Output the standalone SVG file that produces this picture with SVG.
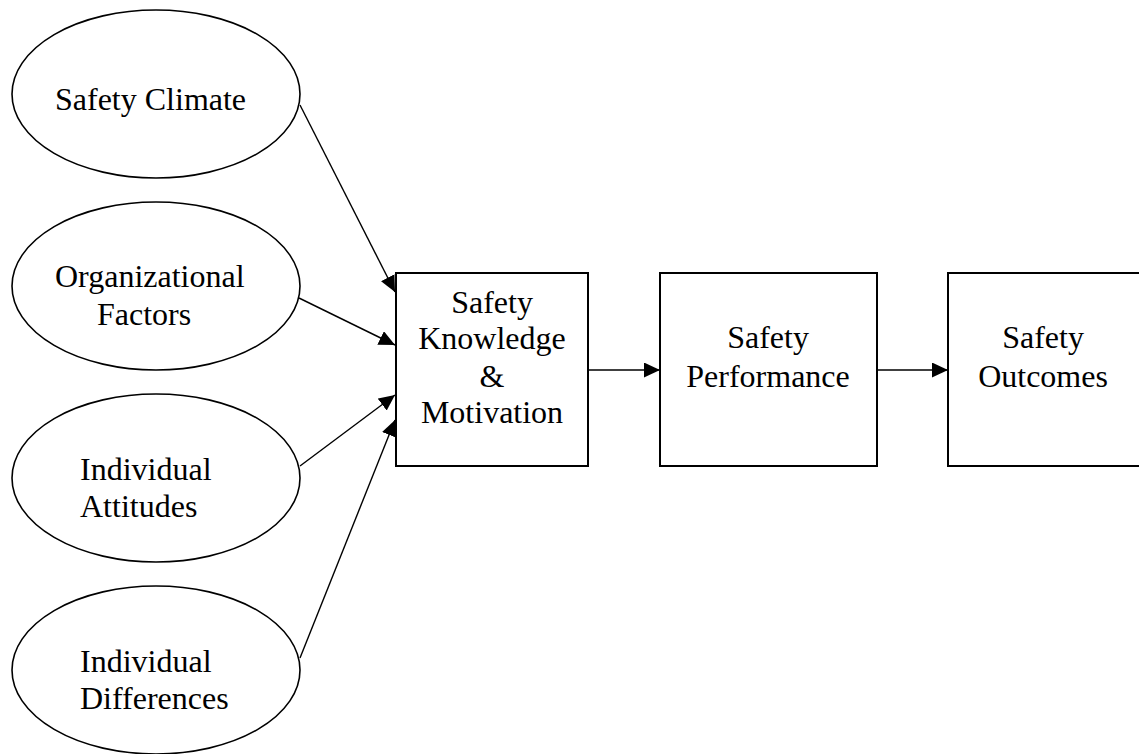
<svg xmlns="http://www.w3.org/2000/svg" width="1139" height="754" viewBox="0 0 1139 754">
  <style>
    .oval { fill: #ffffff; stroke: #000000; stroke-width: 1.6; }
    .box { fill: #ffffff; stroke: #000000; stroke-width: 2; }
    .label { font-family: "Liberation Serif", "Times New Roman", serif; font-size: 32px; fill: #000000; }
    .mid { text-anchor: middle; }
    .link { fill: none; stroke: #000000; stroke-width: 1.4; marker-end: url(#head); }
  </style>
  <defs>
    <marker id="head" markerUnits="userSpaceOnUse" markerWidth="16" markerHeight="15" refX="16" refY="7.5" orient="auto">
      <path d="M0,0 L16,7.5 L0,15 Z" fill="#000000"/>
    </marker>
  </defs>
  <rect width="1139" height="754" fill="#ffffff"/>

  <!-- antecedent factors -->
  <g id="safety-climate">
    <ellipse class="oval" cx="156" cy="94" rx="144" ry="84"/>
    <text class="label" x="55" y="110">Safety Climate</text>
  </g>
  <g id="organizational-factors">
    <ellipse class="oval" cx="156" cy="286" rx="144" ry="84"/>
    <text class="label" x="55" y="287">Organizational</text>
    <text class="label" x="97" y="325">Factors</text>
  </g>
  <g id="individual-attitudes">
    <ellipse class="oval" cx="156" cy="478" rx="144" ry="84"/>
    <text class="label" x="80" y="480">Individual</text>
    <text class="label" x="80" y="517">Attitudes</text>
  </g>
  <g id="individual-differences">
    <ellipse class="oval" cx="156" cy="670" rx="144" ry="84"/>
    <text class="label" x="80" y="672">Individual</text>
    <text class="label" x="80" y="709">Differences</text>
  </g>

  <!-- process chain -->
  <g id="knowledge-motivation">
    <rect class="box" x="396" y="273" width="192" height="193"/>
    <text class="label mid" x="492" y="313">Safety</text>
    <text class="label mid" x="492" y="349">Knowledge</text>
    <text class="label mid" x="492" y="387">&amp;</text>
    <text class="label mid" x="492" y="423">Motivation</text>
  </g>
  <g id="safety-performance">
    <rect class="box" x="660" y="273" width="217" height="193"/>
    <text class="label mid" x="768" y="348">Safety</text>
    <text class="label mid" x="768" y="387">Performance</text>
  </g>
  <g id="safety-outcomes">
    <rect class="box" x="948" y="273" width="196" height="193"/>
    <text class="label mid" x="1043" y="348">Safety</text>
    <text class="label mid" x="1043" y="387">Outcomes</text>
  </g>

  <!-- connectors -->
  <g id="connectors">
    <line class="link" x1="300" y1="105" x2="395" y2="292"/>
    <line class="link" x1="299" y1="298" x2="395" y2="345"/>
    <line class="link" x1="300" y1="466" x2="395" y2="395"/>
    <line class="link" x1="300" y1="658" x2="395" y2="420"/>
    <line class="link" x1="588" y1="370" x2="660" y2="370"/>
    <line class="link" x1="877" y1="370" x2="948" y2="370"/>
  </g>
</svg>
